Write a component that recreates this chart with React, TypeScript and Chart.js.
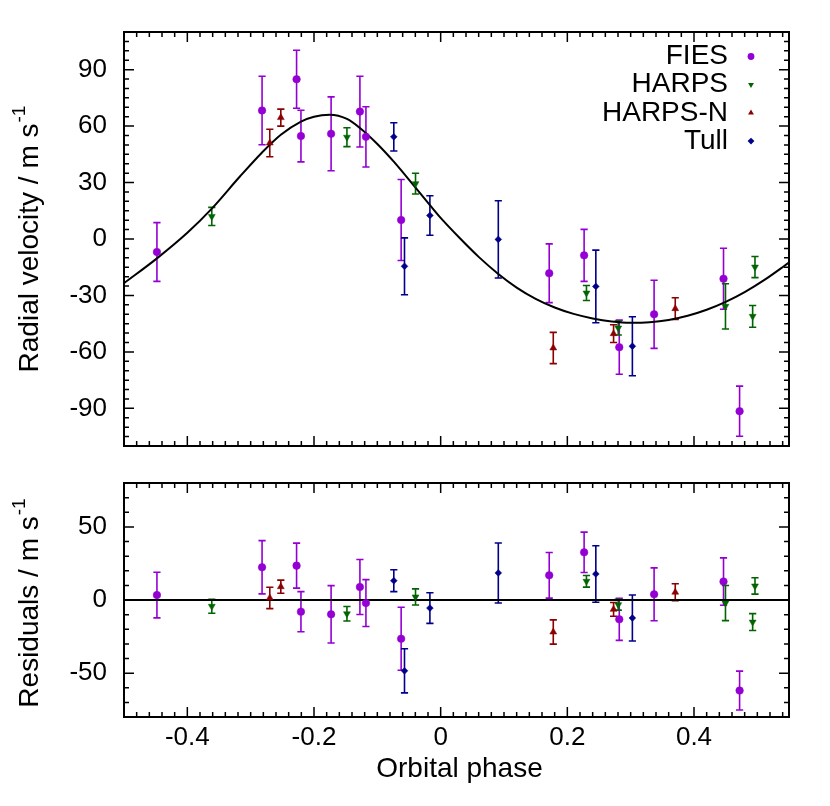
import React, { useEffect, useRef } from 'react';
import { Chart, registerables } from 'chart.js';

Chart.register(...registerables);

// ---------------- data ----------------
const fiesPhase = [-0.448, -0.282, -0.2275, -0.2206, -0.173, -0.1275, -0.118, -0.0624, 0.1714, 0.2265, 0.282, 0.337, 0.4466, 0.472];
const fiesRv = [-6.9, 68.3, 84.9, 54.7, 55.9, 67.7, 54.3, 10.1, -18.2, -8.7, -57.5, -40.0, -21.1, -91.5];
const fiesErr = [15.6, 18.2, 15.4, 13.7, 19.6, 18.8, 16.0, 21.5, 15.6, 13.8, 14.4, 18.1, 16.2, 13.3];
const fiesRes = [3.4, 22.4, 23.5, -8.0, -9.8, 8.9, -2.1, -26.5, 16.9, 32.6, -13.2, 3.9, 12.6, -61.9];

const harpsPhase = [-0.3614, -0.148, -0.0397, 0.2302, 0.2804, 0.4497, 0.4963, 0.4926];
const harpsRv = [12.0, 54.1, 29.4, -28.7, -47.3, -35.8, -14.9, -41.1];
const harpsErr = [4.8, 5.0, 5.5, 4.0, 3.7, 12.0, 5.6, 5.8];
const harpsRes = [-4.3, -9.4, 2.1, 12.8, -3.2, -2.1, 9.6, -15.1];

const harpsNPhase = [-0.2698, -0.2524, 0.1778, 0.273, 0.3704];
const harpsNRv = [51.0, 64.5, -57.9, -50.3, -37.0];
const harpsNErr = [7.3, 4.5, 8.3, 4.7, 5.8];
const harpsNRes = [1.4, 9.1, -21.9, -6.4, 5.3];

const tullPhase = [-0.074, -0.0571, -0.017, 0.091, 0.245, 0.3027];
const tullRv = [54.3, -14.5, 12.5, -0.2, -25.2, -57.0];
const tullErr = [7.5, 15.1, 10.5, 20.5, 19.3, 15.7];
const tullRes = [13.2, -48.4, -5.5, 18.5, 17.8, -12.3];

// model curve
const modelPhase = [-0.5, -0.448, -0.4, -0.361, -0.317, -0.282, -0.2524, -0.2206, -0.2, -0.175, -0.148, -0.1275, -0.1, -0.074, -0.04, -0.017, 0.0, 0.03, 0.06, 0.09, 0.12, 0.15, 0.18, 0.21, 0.24, 0.27, 0.3, 0.33, 0.36, 0.39, 0.42, 0.45, 0.48, 0.51, 0.55];
const modelRv = [-23.5, -10.3, 3.3, 16.3, 33.2, 46.0, 55.4, 62.4, 65.0, 66.0, 63.8, 59.0, 50.5, 41.1, 27.4, 18.0, 11.2, 0.5, -9.5, -18.3, -25.8, -31.8, -36.4, -39.8, -42.2, -43.8, -44.5, -44.2, -43.0, -40.8, -37.6, -33.4, -28.2, -22.0, -12.5];

const xTicks = [-0.4, -0.2, 0, 0.2, 0.4];
const rvTicks = [-90, -60, -30, 0, 30, 60, 90];
const resTicks = [-50, 0, 50];

const instrumentNames = ['FIES', 'HARPS', 'HARPS-N', 'Tull'];

// ---------------- styling ----------------
const FONT = '"Liberation Sans", Arial, Helvetica, sans-serif';

const instruments = [
  { name: instrumentNames[0], phase: fiesPhase, rv: fiesRv, err: fiesErr, res: fiesRes, color: '#9400d3', style: 'circle', rot: 0, r: 3.8 },
  { name: instrumentNames[1], phase: harpsPhase, rv: harpsRv, err: harpsErr, res: harpsRes, color: '#006400', style: 'triangle', rot: 180, r: 4.0 },
  { name: instrumentNames[2], phase: harpsNPhase, rv: harpsNRv, err: harpsNErr, res: harpsNRes, color: '#8b0000', style: 'triangle', rot: 0, r: 4.0 },
  { name: instrumentNames[3], phase: tullPhase, rv: tullRv, err: tullErr, res: tullRes, color: '#00008b', style: 'rectRot', rot: 0, r: 3.4 },
];

function makeDatasets(which: 'rv' | 'res') {
  return instruments.map((ins) => ({
    type: 'scatter' as const,
    label: ins.name,
    data: ins.phase.map((x, i) => ({ x, y: (which === 'rv' ? ins.rv : ins.res)[i] })),
    errors: ins.err,
    errColor: ins.color,
    pointStyle: ins.style,
    pointRotation: ins.rot,
    pointRadius: ins.r,
    backgroundColor: ins.color,
    borderColor: ins.color,
    borderWidth: 0.5,
    showLine: false,
    order: 1,
  }));
}

const errorBarPlugin = {
  id: 'errorBars',
  beforeDatasetsDraw(chart: any) {
    const { ctx } = chart;
    const xs = chart.scales.x;
    const ys = chart.scales.y;
    chart.data.datasets.forEach((ds: any) => {
      if (!ds.errors) return;
      ctx.save();
      ctx.strokeStyle = ds.errColor;
      ctx.lineWidth = 1.6;
      ctx.beginPath();
      ds.data.forEach((p: any, j: number) => {
        const e = ds.errors[j];
        const px = xs.getPixelForValue(p.x);
        const y1 = ys.getPixelForValue(p.y - e);
        const y2 = ys.getPixelForValue(p.y + e);
        ctx.moveTo(px, y1);
        ctx.lineTo(px, y2);
        ctx.moveTo(px - 3.6, y1);
        ctx.lineTo(px + 3.6, y1);
        ctx.moveTo(px - 3.6, y2);
        ctx.lineTo(px + 3.6, y2);
      });
      ctx.stroke();
      ctx.restore();
    });
  },
};

const frameTicksPlugin = {
  id: 'frameTicks',
  afterDatasetsDraw(chart: any, _args: any, opts: any) {
    const { ctx, chartArea: a } = chart;
    const xs = chart.scales.x;
    const ys = chart.scales.y;
    ctx.save();
    ctx.strokeStyle = '#000';
    ctx.lineWidth = 1.5;
    ctx.beginPath();
    const isMajor = (list: number[], v: number) => list.some((m) => Math.abs(m - v) < 1e-6);
    const kx0 = Math.ceil(xs.min / opts.xMinor - 1e-6);
    const kx1 = Math.floor(xs.max / opts.xMinor + 1e-6);
    for (let k = kx0; k <= kx1; k++) {
      const v = k * opts.xMinor;
      const len = isMajor(opts.xMajor, v) ? 10 : 5;
      const p = xs.getPixelForValue(v);
      ctx.moveTo(p, a.bottom);
      ctx.lineTo(p, a.bottom - len);
      ctx.moveTo(p, a.top);
      ctx.lineTo(p, a.top + len);
    }
    const ky0 = Math.ceil(ys.min / opts.yMinor - 1e-6);
    const ky1 = Math.floor(ys.max / opts.yMinor + 1e-6);
    for (let k = ky0; k <= ky1; k++) {
      const v = k * opts.yMinor;
      const len = isMajor(opts.yMajor, v) ? 10 : 5;
      const p = ys.getPixelForValue(v);
      ctx.moveTo(a.left, p);
      ctx.lineTo(a.left + len, p);
      ctx.moveTo(a.right, p);
      ctx.lineTo(a.right - len, p);
    }
    ctx.stroke();
    ctx.lineWidth = 2;
    ctx.strokeRect(a.left, a.top, a.right - a.left, a.bottom - a.top);
    ctx.restore();
  },
};

const titlesPlugin = {
  id: 'axisTitles',
  afterDraw(chart: any, _args: any, opts: any) {
    const { ctx, chartArea: a } = chart;
    ctx.save();
    ctx.fillStyle = '#000';
    if (opts.yText) {
      const size = 28;
      const supSize = 19;
      ctx.translate(opts.yBaseX, (a.top + a.bottom) / 2 + (opts.yShift || 0));
      ctx.rotate(-Math.PI / 2);
      ctx.font = `${size}px ${FONT}`;
      const w1 = ctx.measureText(opts.yText).width;
      ctx.font = `${supSize}px ${FONT}`;
      const w2 = ctx.measureText(opts.ySup).width;
      const x0 = -(w1 + w2 + 1) / 2;
      ctx.textAlign = 'left';
      ctx.textBaseline = 'alphabetic';
      ctx.font = `${size}px ${FONT}`;
      ctx.fillText(opts.yText, x0, 0);
      ctx.font = `${supSize}px ${FONT}`;
      ctx.fillText(opts.ySup, x0 + w1 + 1, -13);
      ctx.setTransform(1, 0, 0, 1, 0, 0);
    }
    if (opts.xText) {
      ctx.font = `28px ${FONT}`;
      ctx.textAlign = 'center';
      ctx.textBaseline = 'alphabetic';
      ctx.fillText(opts.xText, (a.left + a.right) / 2 + 3, opts.xBaseY);
    }
    ctx.restore();
  },
};

function drawMarker(ctx: CanvasRenderingContext2D, style: string, rot: number, x: number, y: number, r: number) {
  ctx.beginPath();
  if (style === 'circle') {
    ctx.arc(x, y, r, 0, Math.PI * 2);
  } else if (style === 'triangle') {
    const base = (rot * Math.PI) / 180;
    for (let i = 0; i < 3; i++) {
      const ang = base + (i * 2 * Math.PI) / 3;
      const px = x + Math.sin(ang) * r;
      const py = y - Math.cos(ang) * r;
      if (i === 0) ctx.moveTo(px, py);
      else ctx.lineTo(px, py);
    }
    ctx.closePath();
  } else {
    ctx.moveTo(x, y - r);
    ctx.lineTo(x + r, y);
    ctx.lineTo(x, y + r);
    ctx.lineTo(x - r, y);
    ctx.closePath();
  }
  ctx.fill();
}

const instLegendPlugin = {
  id: 'instLegend',
  afterDraw(chart: any, _args: any, opts: any) {
    const { ctx } = chart;
    ctx.save();
    ctx.font = `28px ${FONT}`;
    ctx.textAlign = 'right';
    ctx.textBaseline = 'middle';
    instruments.forEach((ins, i) => {
      const y = opts.y0 + i * opts.dy;
      ctx.fillStyle = '#000';
      ctx.fillText(ins.name, opts.textRight, y);
      ctx.fillStyle = ins.color;
      drawMarker(ctx, ins.style, ins.rot, opts.markerX, y, ins.style === 'circle' ? 3.4 : 3.4);
    });
    ctx.restore();
  },
};

const tickFont = { family: FONT, size: 26 };

const fixY = (s: any) => {
  s.width = 124;
  s.paddingTop = 0;
  s.paddingBottom = 0;
  s.paddingLeft = 0;
  s.paddingRight = 0;
};

export default function App() {
  const topRef = useRef<HTMLCanvasElement>(null);
  const botRef = useRef<HTMLCanvasElement>(null);

  useEffect(() => {
    const top = new Chart(topRef.current as HTMLCanvasElement, {
      type: 'scatter',
      data: {
        datasets: [
          ...makeDatasets('rv'),
          {
            type: 'line',
            label: 'model',
            data: modelPhase.map((x, i) => ({ x, y: modelRv[i] })),
            borderColor: '#000',
            borderWidth: 2,
            pointRadius: 0,
            cubicInterpolationMode: 'monotone',
            fill: false,
            order: 5,
          } as any,
        ] as any,
      },
      options: {
        animation: false,
        responsive: false,
        devicePixelRatio: 1,
        layout: { padding: { left: 0, right: 41, top: 32, bottom: 24 } },
        plugins: {
          legend: { display: false },
          tooltip: { enabled: false },
          frameTicks: { xMinor: 0.02, xMajor: xTicks, yMinor: 5, yMajor: rvTicks },
          axisTitles: { yText: 'Radial velocity / m s', ySup: '-1', yBaseX: 38 },
          instLegend: { y0: 56.5, dy: 28.2, textRight: 728, markerX: 751 },
        } as any,
        scales: {
          x: {
            type: 'linear',
            min: -0.5,
            max: 0.55,
            display: false,
            afterFit: (s: any) => {
              s.paddingLeft = 0;
              s.paddingRight = 0;
              s.paddingTop = 0;
              s.paddingBottom = 0;
            },
          },
          y: {
            type: 'linear',
            min: -110,
            max: 110,
            afterBuildTicks: (s: any) => {
              s.ticks = rvTicks.map((v) => ({ value: v }));
            },
            afterFit: fixY,
            grid: { display: false, drawTicks: false },
            border: { display: false },
            ticks: { font: tickFont, color: '#000', padding: 17 },
          },
        },
      },
      plugins: [errorBarPlugin, frameTicksPlugin, titlesPlugin, instLegendPlugin],
    });

    const bot = new Chart(botRef.current as HTMLCanvasElement, {
      type: 'scatter',
      data: {
        datasets: [
          ...makeDatasets('res'),
          {
            type: 'line',
            label: 'zero',
            data: [
              { x: -0.5, y: 0 },
              { x: 0.55, y: 0 },
            ],
            borderColor: '#000',
            borderWidth: 2,
            pointRadius: 0,
            fill: false,
            order: 5,
          } as any,
        ] as any,
      },
      options: {
        animation: false,
        responsive: false,
        devicePixelRatio: 1,
        layout: { padding: { left: 0, right: 41, top: 13, bottom: 0 } },
        plugins: {
          legend: { display: false },
          tooltip: { enabled: false },
          frameTicks: { xMinor: 0.02, xMajor: xTicks, yMinor: 10, yMajor: resTicks },
          axisTitles: { yText: 'Residuals / m s', ySup: '-1', yBaseX: 38, yShift: 3, xText: 'Orbital phase', xBaseY: 307 },
        } as any,
        scales: {
          x: {
            type: 'linear',
            min: -0.5,
            max: 0.55,
            afterBuildTicks: (s: any) => {
              s.ticks = xTicks.map((v) => ({ value: v }));
            },
            afterFit: (s: any) => {
              s.height = 89;
              s.paddingLeft = 0;
              s.paddingRight = 0;
              s.paddingTop = 0;
              s.paddingBottom = 0;
            },
            grid: { display: false, drawTicks: false },
            border: { display: false },
            ticks: { font: tickFont, color: '#000', padding: 5, maxRotation: 0, autoSkip: false, callback: (v: any) => String(v) },
          },
          y: {
            type: 'linear',
            min: -80,
            max: 80,
            afterBuildTicks: (s: any) => {
              s.ticks = resTicks.map((v) => ({ value: v }));
            },
            afterFit: fixY,
            grid: { display: false, drawTicks: false },
            border: { display: false },
            ticks: { font: tickFont, color: '#000', padding: 17 },
          },
        },
      },
      plugins: [errorBarPlugin, frameTicksPlugin, titlesPlugin],
    });

    return () => {
      top.destroy();
      bot.destroy();
    };
  }, []);

  return (
    <div style={{ position: 'absolute', left: 0, top: 0, width: 830, height: 806, background: '#fff' }}>
      <canvas ref={topRef} width={830} height={470} style={{ position: 'absolute', left: 0, top: 0, width: 830, height: 470 }} />
      <canvas ref={botRef} width={830} height={336} style={{ position: 'absolute', left: 0, top: 470, width: 830, height: 336 }} />
    </div>
  );
}
